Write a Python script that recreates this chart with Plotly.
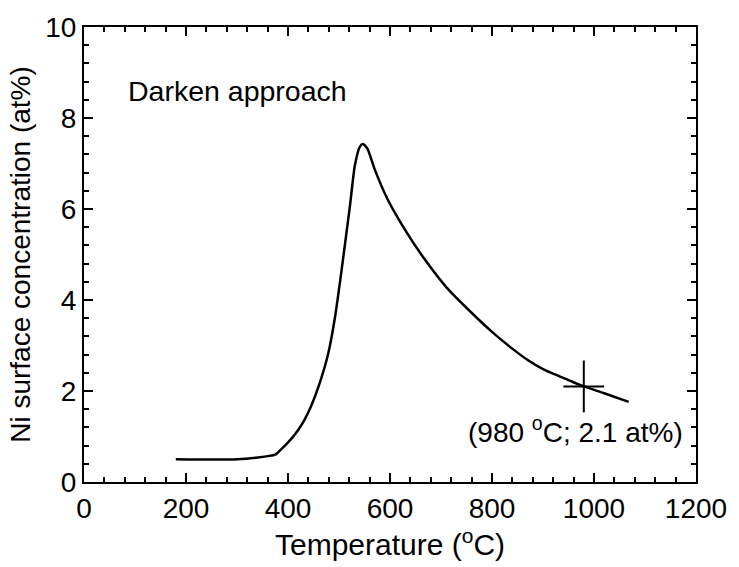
import plotly.graph_objects as go

temperature = [180, 300, 375, 385, 395, 408, 421, 432, 445, 460, 479, 492, 502,
               512, 522, 531, 541, 547, 556, 570, 595, 628, 667, 712, 770, 800,
               841, 870, 900, 950, 980, 1020, 1068]
ni_conc = [0.5, 0.5, 0.6, 0.7, 0.81, 0.97, 1.16, 1.36, 1.66, 2.1, 2.83, 3.61,
           4.4, 5.25, 6.12, 6.95, 7.37, 7.43, 7.32, 6.87, 6.22, 5.57, 4.91,
           4.26, 3.61, 3.3, 2.92, 2.68, 2.48, 2.24, 2.1, 1.95, 1.76]

mark_t = [980]
mark_c = [2.1]
mark_dt = [40]
mark_dc = [0.57]

FONT = "Liberation Sans, Arial, sans-serif"

fig = go.Figure()
fig.add_trace(go.Scatter(x=temperature, y=ni_conc, mode="lines",
                         line=dict(color="black", width=2.5, shape="spline",
                                   smoothing=0.6),
                         showlegend=False))
fig.add_trace(go.Scatter(x=mark_t, y=mark_c, mode="markers",
                         marker=dict(size=1, color="black"),
                         error_x=dict(type="data", array=mark_dt, visible=True,
                                      color="black", thickness=2, width=0),
                         error_y=dict(type="data", array=mark_dc, visible=True,
                                      color="black", thickness=2, width=0),
                         showlegend=False))

fig.add_annotation(x=83, y=8.6, text="Darken approach", showarrow=False,
                   xanchor="left", yanchor="middle",
                   font=dict(family=FONT, size=28.5, color="black"))
fig.add_annotation(x=963, y=1.14, text="(980 <sup>o</sup>C; 2.1 at%)",
                   showarrow=False, xanchor="center", yanchor="middle",
                   font=dict(family=FONT, size=28, color="black"))

axis_common = dict(showline=True, linecolor="black", linewidth=2, mirror="ticks",
                   ticks="inside", ticklen=9, tickwidth=1.8, tickcolor="black",
                   showgrid=False, zeroline=False,
                   tickfont=dict(family=FONT, size=28, color="black"))

fig.update_xaxes(range=[0, 1200], dtick=200, tick0=0,
                 minor=dict(dtick=40, ticks="inside", ticklen=5, tickwidth=1.5,
                            tickcolor="black", showgrid=False),
                 title=dict(text="Temperature (<sup>o</sup>C)", standoff=6,
                            font=dict(family=FONT, size=30, color="black")),
                 **axis_common)
fig.update_yaxes(range=[0, 10], dtick=2, tick0=0,
                 minor=dict(dtick=0.4, ticks="inside", ticklen=5, tickwidth=1.5,
                            tickcolor="black", showgrid=False),
                 title=dict(text="Ni surface concentration (at%)", standoff=6,
                            font=dict(family=FONT, size=28, color="black")),
                 **axis_common)

fig.update_layout(width=739, height=567,
                  margin=dict(l=84, r=36, t=24, b=85),
                  plot_bgcolor="white", paper_bgcolor="white",
                  font=dict(family=FONT, color="black"))

fig.write_html("out.html")
